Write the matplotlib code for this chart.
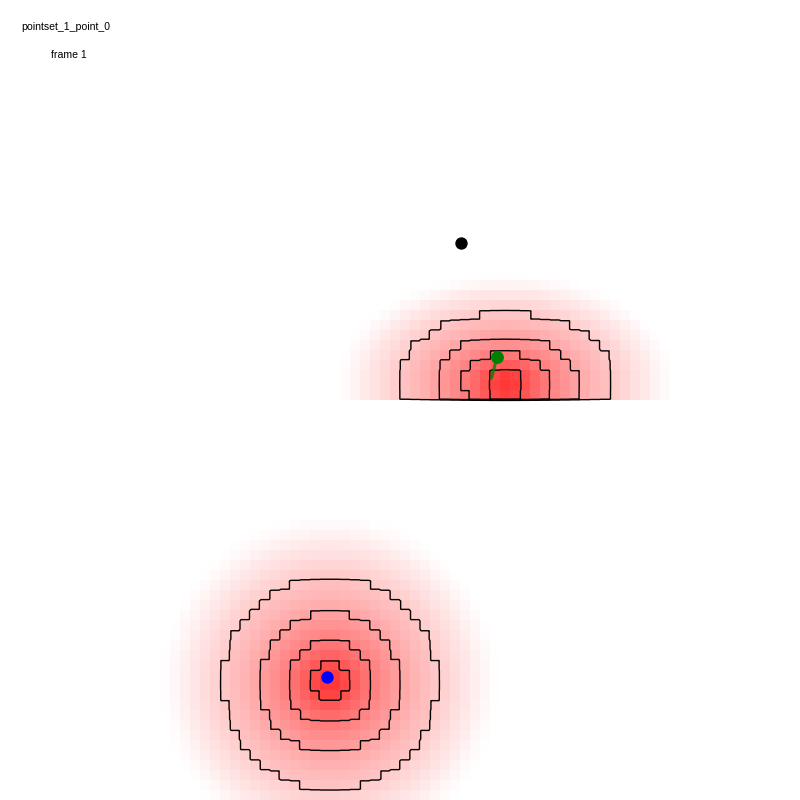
import numpy as np
import matplotlib
matplotlib.use('Agg')
import matplotlib.pyplot as plt

# radial profile of the heat blobs (px from centre -> red alpha)
ring_r = [0, 10, 20, 30, 40, 50, 60, 70, 80, 90, 100, 110, 120, 130, 140, 150, 160, 170]
ring_alpha = [0.80, 0.76, 0.68, 0.60, 0.53, 0.47, 0.42, 0.37, 0.32, 0.28, 0.25,
              0.20, 0.16, 0.12, 0.09, 0.05, 0.02, 0.0]
contour_levels = [0.215, 0.37, 0.518, 0.688]

# blob centres (x, y), vertical squash above / below centre, y cut-off
lower_blob = (330, 683, 1.0, 1.0, 800)
upper_blob = (506, 380, 0.63, 1.5, 400)

black_pt = (461, 243)
blue_pt = (326.7, 676.7)
green_pt = (497, 357)
green_tail = (491.5, 378)

title_txt = 'pointset_1_point_0'
frame_txt = 'frame 1'

cell = 10
size = 800
centres = np.arange(cell / 2, size, cell)
cx_grid, cy_grid = np.meshgrid(centres, centres)


def blob_field(cx, cy, sy_up, sy_down, y_cut):
    dy = cy_grid - cy
    dy = np.where(dy < 0, dy / sy_up, dy / sy_down)
    dist = np.sqrt((cx_grid - cx) ** 2 + dy ** 2)
    vals = np.interp(dist, ring_r, ring_alpha)
    vals[cy_grid >= y_cut] = 0
    return vals


field = blob_field(*lower_blob) + blob_field(*upper_blob)

fig = plt.figure(figsize=(8, 8), dpi=100)
ax = fig.add_axes([0, 0, 1, 1])

rgba = np.zeros(field.shape + (4,))
rgba[..., 0] = 1.0
rgba[..., 3] = field
ax.imshow(rgba, extent=(0, size, size, 0), interpolation='nearest', zorder=1)

# contours on the blocky field sampled every 2 px so the lines follow the cells
sub = 5
field_px = np.repeat(np.repeat(field, sub, axis=0), sub, axis=1)
px = (np.arange(size // (cell // sub)) + 0.5) * (cell / sub)
ax.contour(px, px, field_px, levels=contour_levels, colors='k', linewidths=1.0, zorder=2)

ax.plot([green_pt[0], green_tail[0]], [green_pt[1], green_tail[1]], '-', color='green',
        alpha=0.8, lw=2.2, solid_capstyle='round', zorder=3)
ax.plot(*green_pt, 'o', color='green', ms=8.2, zorder=4)
ax.plot(*blue_pt, 'o', color='blue', ms=7.9, zorder=4)
ax.plot(*black_pt, 'o', color='black', ms=7.9, zorder=4)

ax.text(21.5, 29.5, title_txt, fontsize=7.6, family='Liberation Sans', va='baseline', ha='left')
ax.text(51, 58.5, frame_txt, fontsize=7.6, family='Liberation Sans', va='baseline', ha='left')

ax.set_xlim(0, size)
ax.set_ylim(size, 0)
ax.axis('off')

fig.savefig('out.png', dpi=100, facecolor='white')
